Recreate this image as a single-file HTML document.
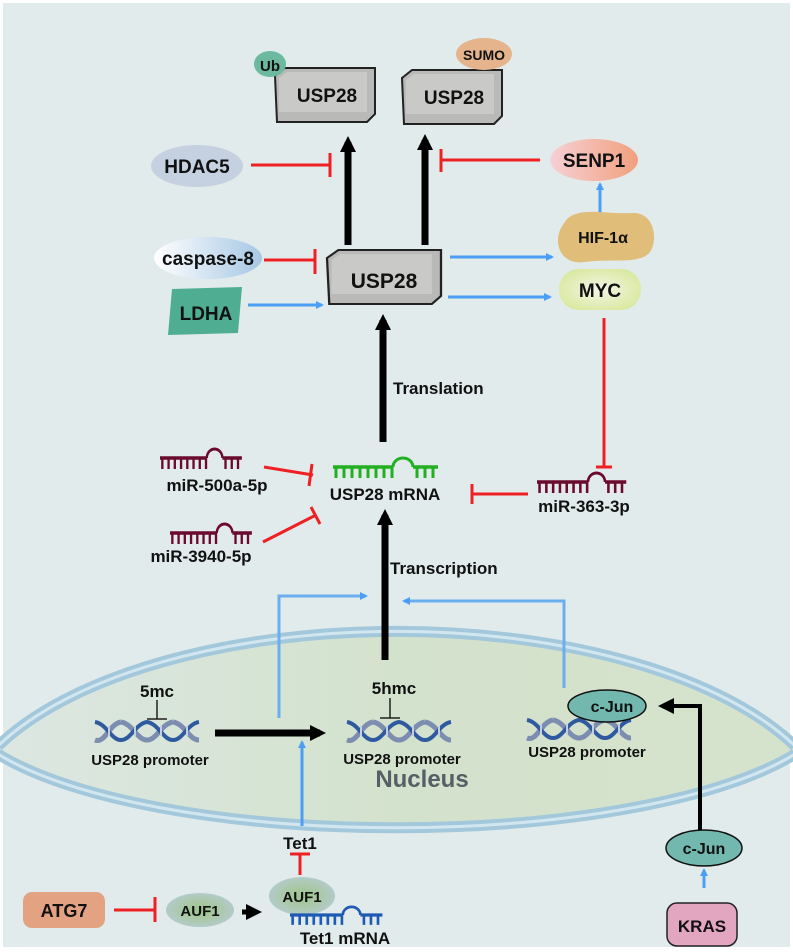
<!DOCTYPE html>
<html><head><meta charset="utf-8"><style>
html,body{margin:0;padding:0;background:#fff}
svg{display:block}
text{font-family:"Liberation Sans",Arial,sans-serif;font-weight:bold;fill:#111}
</style></head><body>
<svg width="793" height="952" viewBox="0 0 793 952" xmlns="http://www.w3.org/2000/svg">
<defs>
<marker id="ab" markerWidth="8" markerHeight="8" refX="6" refY="4" orient="auto" markerUnits="userSpaceOnUse"><path d="M0,0L8,4L0,8Z" fill="#4a9ff5"/></marker>
<marker id="ak" markerWidth="16" markerHeight="16" refX="10" refY="8" orient="auto" markerUnits="userSpaceOnUse"><path d="M0,0L16,8L0,16Z" fill="#000"/></marker>
<linearGradient id="nuc" x1="0" x2="1"><stop offset="0" stop-color="#dce7e2"/><stop offset="0.5" stop-color="#d3e2cd"/><stop offset="1" stop-color="#d6e3cc"/></linearGradient>
<radialGradient id="auf" cx="0.5" cy="0.5" r="0.5"><stop offset="0" stop-color="#9cc48e"/><stop offset="0.5" stop-color="#a9c8a5"/><stop offset="1" stop-color="#b3cbc8"/></radialGradient>
<radialGradient id="myc" cx="0.5" cy="0.5" r="0.6"><stop offset="0" stop-color="#f3f5e8"/><stop offset="1" stop-color="#d8e89a"/></radialGradient>
<linearGradient id="senp" x1="0" x2="1"><stop offset="0" stop-color="#f5d0d5"/><stop offset="1" stop-color="#f2a07e"/></linearGradient>
<linearGradient id="casp" x1="0" x2="1"><stop offset="0" stop-color="#ffffff"/><stop offset="1" stop-color="#a6c7e4"/></linearGradient>
<g id="rna">
 <path d="M0,0H60M80,0H105" stroke-width="3.5" fill="none"/>
 <path d="M60,0A10,9 0 0 1 80,0" stroke-width="3" fill="none"/>
 <path d="M3,0v11M11,0v11M19,0v11M27,0v11M35,0v11M43,0v11M51,0v11M59,0v11M84,0v11M92,0v11M100,0v11" stroke-width="3" fill="none"/>
</g>
<g id="dna">
 <path d="M0,18C10,22 14,2 26,0M26,0C38,2 42,18 52,18C62,18 66,2 78,0M78,0C90,2 94,18 104,18" stroke="#7c8db0" stroke-width="5" fill="none"/>
 <path d="M0,0C12,2 16,18 26,18C36,18 40,2 52,0C64,2 68,18 78,18C88,18 92,2 104,0" stroke="#2f5aa0" stroke-width="4" fill="none"/>
 <path d="M14,4v10M40,4v10M66,4v10M92,4v10" stroke="#c5cde0" stroke-width="2"/>
</g>
<g id="box">
 <path d="M0,8L10,0H100V46L92,54H2Z" fill="#b9bab7" stroke="#222" stroke-width="2"/>
 <path d="M4,10L12,4H92V44H4Z" fill="#c9cac7"/>
</g>
</defs>
<rect width="793" height="952" fill="#fff"/>
<rect x="3" y="3" width="787" height="944" fill="#e1ebeb"/>

<path d="M0,745 A440,199 0 0 1 793,745 L793,755 A440,128 0 0 1 0,755Z" fill="url(#nuc)"/>
<g fill="none" stroke="#a3c8dc" stroke-width="11">
<path d="M-2,746 A440,199 0 0 1 795,746"/>
<path d="M-2,754 A440,128 0 0 0 795,754"/>
</g>
<g fill="none" stroke="#d2e6ef" stroke-width="3">
<path d="M-2,746 A440,199 0 0 1 795,746"/>
<path d="M-2,754 A440,128 0 0 0 795,754"/>
</g>
<text x="422" y="787" font-size="24" text-anchor="middle" style="fill:#565e66">Nucleus</text>

<use href="#box" transform="translate(275,68)"/>
<text x="327" y="102" font-size="19" text-anchor="middle">USP28</text>
<ellipse cx="270" cy="64" rx="16" ry="13" fill="#6cb9a0"/>
<text x="270" y="71" font-size="15" text-anchor="middle">Ub</text>
<use href="#box" transform="translate(402,70)"/>
<text x="454" y="104" font-size="19" text-anchor="middle">USP28</text>
<ellipse cx="484" cy="54" rx="28" ry="16" fill="#e5b48c"/>
<text x="484" y="60" font-size="14" text-anchor="middle">SUMO</text>

<line x1="348" y1="245" x2="348" y2="142" stroke="#000" stroke-width="7" marker-end="url(#ak)"/>
<line x1="425" y1="245" x2="425" y2="140" stroke="#000" stroke-width="7" marker-end="url(#ak)"/>

<ellipse cx="197" cy="166" rx="46" ry="21" fill="#c5d1e0"/>
<text x="197" y="173" font-size="19" text-anchor="middle">HDAC5</text>
<g stroke="#ee2024" stroke-width="3" fill="none">
<path d="M251,165H330M330,153V177"/>
<path d="M540,160H441M441,149V172"/>
<path d="M264,260H315M315,249V274"/>
<path d="M604,318V467M596,467H612"/>
<path d="M528,494H472M472,484V504"/>
<path d="M264,467L313,475M312,464L309,486"/>
<path d="M263,542L316,515M311,507L320,524"/>
<path d="M114,910H155M155,897V922"/>
<path d="M300,875V854M290,854H310"/>
</g>
<ellipse cx="594" cy="160" rx="44" ry="21" fill="url(#senp)"/>
<text x="594" y="167" font-size="19" text-anchor="middle">SENP1</text>
<line x1="600" y1="214" x2="600" y2="184" stroke="#4a9ff5" stroke-width="3" marker-end="url(#ab)"/>
<path d="M565,222C575,205 610,215 632,213C655,212 658,240 650,252C640,265 610,258 585,262C560,266 550,240 565,222Z" fill="#e0bd78"/>
<text x="603" y="243" font-size="16" text-anchor="middle">HIF-1α</text>
<rect x="559" y="269" width="82" height="41" rx="20" fill="url(#myc)"/>
<text x="600" y="297" font-size="19" text-anchor="middle">MYC</text>

<ellipse cx="208" cy="258" rx="54" ry="21" fill="url(#casp)"/>
<text x="208" y="265" font-size="19" text-anchor="middle">caspase-8</text>
<path d="M172,289L242,287L238,333L168,335Z" fill="#4fae92"/>
<text x="206" y="320" font-size="19" text-anchor="middle">LDHA</text>
<line x1="248" y1="305" x2="322" y2="305" stroke="#4a9ff5" stroke-width="3" marker-end="url(#ab)"/>

<g transform="translate(327,250) scale(1.14,1)"><use href="#box"/></g>
<text x="384" y="288" font-size="21" text-anchor="middle">USP28</text>
<line x1="450" y1="257" x2="552" y2="257" stroke="#4a9ff5" stroke-width="3" marker-end="url(#ab)"/>
<line x1="448" y1="297" x2="550" y2="297" stroke="#4a9ff5" stroke-width="3" marker-end="url(#ab)"/>

<line x1="383" y1="442" x2="383" y2="320" stroke="#000" stroke-width="7" marker-end="url(#ak)"/>
<text x="393" y="394" font-size="17">Translation</text>

<use href="#rna" transform="translate(333,467)" stroke="#22b022"/>
<text x="385" y="500" font-size="17" text-anchor="middle">USP28 mRNA</text>
<use href="#rna" transform="translate(160,458) scale(0.78,1)" stroke="#6b0a2c"/>
<text x="217" y="491" font-size="17" text-anchor="middle">miR-500a-5p</text>
<use href="#rna" transform="translate(170,533) scale(0.78,1)" stroke="#6b0a2c"/>
<text x="201" y="562" font-size="17" text-anchor="middle">miR-3940-5p</text>
<use href="#rna" transform="translate(537,482) scale(0.85,1)" stroke="#6b0a2c"/>
<text x="584" y="512" font-size="17" text-anchor="middle">miR-363-3p</text>

<line x1="385" y1="660" x2="385" y2="515" stroke="#000" stroke-width="7" marker-end="url(#ak)"/>
<text x="390" y="574" font-size="17">Transcription</text>

<g stroke="#6aaef0" stroke-width="3" fill="none">
<path d="M279,718V596H366" marker-end="url(#ab)"/>
<path d="M564,688V601H404" marker-end="url(#ab)"/>
</g>

<text x="157" y="697" font-size="17" text-anchor="middle">5mc</text>
<path d="M157,700V719M147,719H167" stroke="#222" stroke-width="1.5"/>
<use href="#dna" transform="translate(95,722)"/>
<text x="150" y="765" font-size="15" text-anchor="middle">USP28 promoter</text>
<line x1="215" y1="733" x2="320" y2="733" stroke="#000" stroke-width="7" marker-end="url(#ak)"/>
<text x="394" y="694" font-size="17" text-anchor="middle">5hmc</text>
<path d="M390,698V718M380,718H400" stroke="#222" stroke-width="1.5"/>
<use href="#dna" transform="translate(347,722)"/>
<text x="402" y="764" font-size="15" text-anchor="middle">USP28 promoter</text>
<line x1="302" y1="826" x2="302" y2="742" stroke="#4a9ff5" stroke-width="3" marker-end="url(#ab)"/>

<use href="#dna" transform="translate(527,720)"/>
<ellipse cx="607" cy="706" rx="39" ry="16" fill="#72b8ae" stroke="#111" stroke-width="1.5"/>
<text x="612" y="712" font-size="16" text-anchor="middle">c-Jun</text>
<text x="587" y="757" font-size="15" text-anchor="middle">USP28 promoter</text>
<path d="M700,830V706H664" stroke="#000" stroke-width="4" fill="none" marker-end="url(#ak)"/>

<ellipse cx="704" cy="848" rx="38" ry="18" fill="#72b8ae" stroke="#111" stroke-width="1.5"/>
<text x="704" y="854" font-size="16" text-anchor="middle">c-Jun</text>
<line x1="704" y1="888" x2="704" y2="870" stroke="#4a9ff5" stroke-width="3" marker-end="url(#ab)"/>
<rect x="667" y="903" width="70" height="43" rx="10" fill="#e3a6c1" stroke="#222" stroke-width="1.5"/>
<text x="702" y="932" font-size="17" text-anchor="middle">KRAS</text>

<text x="300" y="849" font-size="17" text-anchor="middle">Tet1</text>
<rect x="23" y="892" width="82" height="36" rx="9" fill="#e3a383"/>
<text x="64" y="917" font-size="18" text-anchor="middle">ATG7</text>
<ellipse cx="200" cy="910" rx="34" ry="17" fill="url(#auf)"/>
<text x="200" y="916" font-size="15" text-anchor="middle">AUF1</text>
<line x1="242" y1="912" x2="256" y2="912" stroke="#000" stroke-width="5" marker-end="url(#ak)"/>
<ellipse cx="302" cy="896" rx="33" ry="19" fill="url(#auf)"/>
<text x="302" y="902" font-size="15" text-anchor="middle">AUF1</text>
<use href="#rna" transform="translate(290,915) scale(0.88,0.9)" stroke="#1e5ab4"/>
<text x="345" y="944" font-size="17" text-anchor="middle">Tet1 mRNA</text>
</svg>
</body></html>
